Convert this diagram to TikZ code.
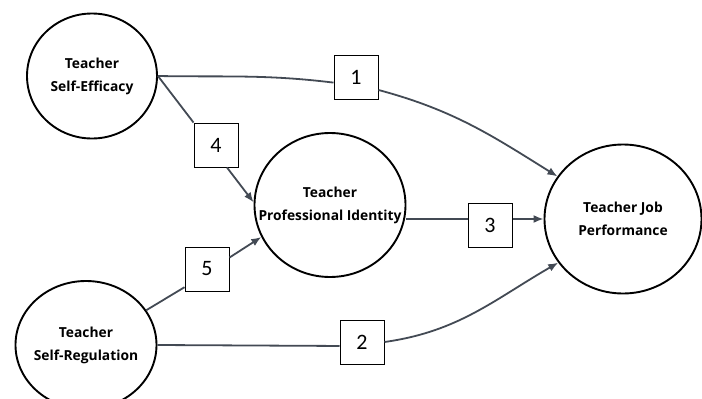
\documentclass[tikz,border=0pt]{standalone}
\usepackage{fontspec}
\setmainfont{Open Sans}
\newfontfamily\labelfont{Open Sans Bold}
\newfontfamily\numfont{Carlito}
\usetikzlibrary{shapes.geometric,arrows.meta}
\definecolor{linegray}{HTML}{434A54}
\begin{document}
\begin{tikzpicture}[x=1pt,y=-1pt,
  construct/.style={ellipse,draw=black,line width=1.9pt,inner sep=0pt,
    label={[align=center,font=\labelfont\fontsize{13.8}{23}\selectfont]center:#1}},
  pathbox/.style={draw=black,line width=1pt,minimum width=44pt,minimum height=44pt,inner sep=0pt,font=\numfont\fontsize{22}{22}\selectfont},
  path/.style={draw=linegray,line width=1.8pt},
  arr/.style={path,-{Latex[length=10pt,width=8pt]}}]
\useasboundingbox (0,0) rectangle (702,399);

\node[construct={Teacher\\Self-Efficacy},minimum width=130pt,minimum height=125pt] (se) at (92,76) {};
\node[construct={Teacher\\Professional Identity},minimum width=151pt,minimum height=144pt] (pi) at (330,205) {};
\node[construct={Teacher Job\\Performance},minimum width=157pt,minimum height=149pt] (jp) at (623,219) {};
\node[construct={Teacher\\Self-Regulation},minimum width=141pt,minimum height=128pt] (sr) at (86,345) {};

\node[pathbox] (b1) at (356,77) {1};
\node[pathbox] (b2) at (362,342) {2};
\node[pathbox] (b3) at (490,225) {3};
\node[pathbox] (b4) at (216,145) {4};
\node[pathbox] (b5) at (207,269) {5};

% path 1
\draw[path] (se.east) to[out=-1,in=173] (b1.194);
\draw[arr] (b1.-30) to[out=-15,in=148] (jp.147);
% path 2
\draw[path] (sr.east) -- (b2.190);
\draw[arr] (b2.east) to[out=8,in=-150] (jp.214);
% path 3
\draw[path] (pi.east |- jp.west) -- (b3.west |- jp.west);
\draw[arr] (b3.east |- jp.west) -- (jp.west);
% path 4
\draw[path] (se.east) -- (b4.north west);
\draw[arr] (b4.-64) -- (pi.178);
% path 5
\draw[path] (sr.30) -- (b5.219);
\draw[arr] (b5.27) -- (pi.205);

\end{tikzpicture}
\end{document}
